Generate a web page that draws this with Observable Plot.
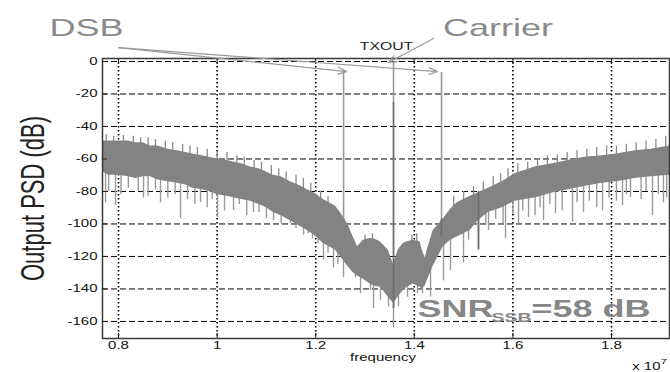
<!DOCTYPE html>
<html>
<head>
<meta charset="utf-8">
<script src="https://cdn.jsdelivr.net/npm/d3@7"></script>
<script src="https://cdn.jsdelivr.net/npm/@observablehq/plot@0.6"></script>
<style>
  html, body { margin: 0; padding: 0; background: #fff; }
</style>
</head>
<body>
<div id="chart"></div>
<script>
// ---- tick values ----
const xTicks = [0.8, 1, 1.2, 1.4, 1.6, 1.8];
const yTicks = [0, -20, -40, -60, -80, -100, -120, -140, -160];

// ---- PSD noise band: frequency (x 1e7), dense upper and lower envelope (dB) ----
const freq  = [0.7676, 0.78, 0.80, 0.82, 0.835, 0.85, 0.865, 0.88, 0.90, 0.92, 0.936, 0.95, 0.97, 0.985, 1.0006, 1.02, 1.035, 1.05, 1.0675, 1.085, 1.10, 1.1141, 1.13, 1.1485, 1.165, 1.183, 1.1972, 1.2154, 1.2397, 1.2499, 1.265, 1.2762, 1.2848, 1.2965, 1.3106, 1.3173, 1.3309, 1.3471, 1.3578, 1.3674, 1.3775, 1.3856, 1.3978, 1.4116, 1.416, 1.4222, 1.4261, 1.4383, 1.4586, 1.4734, 1.4869, 1.5133, 1.5295, 1.55, 1.5781, 1.6045, 1.625, 1.645, 1.68, 1.7119, 1.745, 1.7808, 1.81, 1.8476, 1.88, 1.9176];
const upper = [-49, -49, -49, -49, -50, -50, -52, -52, -54, -55, -56, -57, -58, -59, -60, -61, -62, -63, -65, -66, -68, -70, -71, -74, -76, -79, -81, -85, -89, -93, -100, -108, -114, -110, -109, -109, -111, -116, -125, -116, -112, -111, -110, -111, -116, -121, -116, -104, -97, -91, -87, -83, -81, -78, -74, -69, -67, -65, -63, -61, -59, -58, -57, -55, -54, -52];
const lower = [-68, -70, -70, -71, -72, -71, -71, -73, -74, -75, -76, -78, -79, -80, -82, -83, -84, -85, -86, -88, -90, -93, -95, -98, -101, -104, -107, -112, -116, -120, -126, -130, -132, -134, -137, -138, -139, -145, -149, -145, -141, -139, -137, -139, -140, -138, -135, -126, -114, -110, -108, -104, -98, -93, -90, -86, -85, -84, -81, -79, -77, -75, -74, -72, -71, -70];

// ---- small upward spikes on the top edge of the band ----
const tipFreq = [0.775, 0.79, 0.81, 0.83, 0.845, 0.86, 0.875, 0.895, 0.91, 0.93, 0.945, 0.96, 0.98, 1.0, 1.02, 1.04, 1.055, 1.075, 1.09, 1.11, 1.125, 1.14, 1.16, 1.175, 1.19, 1.21, 1.225, 1.30, 1.315, 1.395, 1.405, 1.48, 1.50, 1.52, 1.54, 1.56, 1.575, 1.59, 1.61, 1.63, 1.65, 1.67, 1.69, 1.71, 1.73, 1.75, 1.77, 1.79, 1.81, 1.83, 1.85, 1.87, 1.89, 1.91];
const tipTop  = [-45, -46, -45.5, -46, -47, -47, -48, -49, -50, -51, -52, -53, -54, -56, -56, -58, -59, -61, -62, -64, -66, -68, -70, -72, -75, -80, -83, -107, -106, -107, -106, -83, -80, -77, -74, -71, -69, -66, -63, -62, -60, -58, -57.5, -56, -55, -54, -53, -52, -52, -51, -50, -49, -48, -46];
const tipBase = [-55, -55, -55, -55, -56, -56, -58, -58, -60, -61, -62, -63, -64, -65, -66, -68, -69, -71, -72, -74, -76, -78, -80, -82, -85, -90, -93, -115, -115, -115, -115, -93, -90, -87, -84, -81, -79, -76, -73, -72, -70, -68, -67, -66, -65, -64, -63, -62, -62, -61, -60, -59, -58, -56];

// ---- individual downward noise spikes below the band ----
const spikeFreq   = [0.7737, 0.78, 0.7939, 0.805, 0.82, 0.84, 0.8507, 0.86, 0.875, 0.8852, 0.90, 0.915, 0.9258, 0.94, 0.955, 0.9663, 0.98, 0.99, 1.0008, 1.015, 1.0333, 1.045, 1.06, 1.0738, 1.085, 1.10, 1.1144, 1.13, 1.1489, 1.16, 1.1753, 1.185, 1.1935, 1.205, 1.2158, 1.225, 1.2361, 1.245, 1.2564, 1.2807, 1.2909, 1.3112, 1.3173, 1.3314, 1.3477, 1.3578, 1.3679, 1.3862, 1.4065, 1.4166, 1.4329, 1.4592, 1.4734, 1.4998, 1.51, 1.53, 1.545, 1.5505, 1.565, 1.58, 1.5850, 1.60, 1.6114, 1.62, 1.6317, 1.645, 1.655, 1.6621, 1.675, 1.6864, 1.70, 1.7209, 1.73, 1.7432, 1.755, 1.77, 1.7817, 1.795, 1.81, 1.8223, 1.83, 1.8385, 1.86, 1.87, 1.8831, 1.895, 1.9054, 1.912];
const spikeTop    = [-65, -65, -65, -66, -66, -67, -66, -68, -68, -70, -70, -71, -72, -73, -74, -75, -76, -77, -78, -79, -80, -81, -82, -82, -84, -86, -88, -90, -93, -95, -98, -100, -100, -105, -108, -110, -112, -116, -118, -125, -130, -132, -132, -135, -140, -140, -140, -135, -133, -135, -125, -110, -108, -100, -100, -96, -92, -90, -88, -86, -85, -83, -82, -81, -80, -80, -79, -80, -78, -78, -77, -76, -75, -74, -73, -72, -73, -71, -71, -70, -69, -70, -68, -68, -68, -67, -68, -67];
const spikeBottom = [-87, -80, -88.6, -82, -78, -80, -84, -83, -79, -87, -84, -82, -96.6, -85, -88, -86.8, -90, -85, -96, -92, -91.7, -88, -95, -93, -93, -97, -98, -100, -99.7, -103, -107, -106, -109, -112, -122, -118, -127, -125, -133, -133, -143, -141, -152, -147, -151, -164, -151, -145, -143, -143, -145, -135, -128.6, -124, -110, -105, -101, -104, -97, -100, -109, -94, -100, -92, -96, -95, -90, -98, -88, -93.7, -92, -99, -87, -93, -86, -90, -92, -84, -86, -88.6, -82, -83.7, -85, -80, -94.8, -82, -87, -84];

// ---- DSB tones and carrier (light part) ----
const toneFreq   = [1.2565, 1.3578, 1.4552];
const toneTop    = [-6.8, -0.5, -6.8];
const toneBottom = [-100, -25, -110];

// ---- darker line segments (carrier body and other) ----
const darkFreq   = [1.3578, 1.5302, 1.4552];
const darkTop    = [-25, -80, -97];
const darkBottom = [-152, -116, -108];

// ---- annotation labels ----
const labelText = ["DSB", "Carrier"];
const labelFreq = [0.735, 1.5698];
const labelDb   = [16, 15.4];
const txText = ["TXOUT"];
const txFreq = [1.3436];
const txDb   = [6.8];

// ---- annotation arrows (from -> to) ----
const arrowX1 = [0.80, 0.80, 1.439];
const arrowY1 = [8.6, 8.6, 14.2];
const arrowX2 = [1.2624, 1.4466, 1.3476];
const arrowY2 = [-6.2, -6.2, -0.6];

// ---- SNR annotation ----
const snrMain = ["SNR"];
const snrSub  = ["SSB"];
const snrRest = ["=58 dB"];
const snrFreq = [1.4065];
const snrDb   = [-157.5];

const yLabel = ["Output PSD (dB)"];
const xLabel = ["frequency"];
const expText = ["x 10"];
const expSup = ["7"];

// tables built from the arrays
const band = freq.map((f, i) => ({f, hi: upper[i], lo: lower[i]}));
const tips = tipFreq.map((f, i) => ({f, top: tipTop[i], bot: tipBase[i]}));
const spikes = spikeFreq.map((f, i) => ({f, top: spikeTop[i], bot: spikeBottom[i]}));
const tones = toneFreq.map((f, i) => ({f, top: toneTop[i], bot: toneBottom[i]}));
const darks = darkFreq.map((f, i) => ({f, top: darkTop[i], bot: darkBottom[i]}));
const labels = labelText.map((t, i) => ({t, f: labelFreq[i], db: labelDb[i]}));
const tx = txText.map((t, i) => ({t, f: txFreq[i], db: txDb[i]}));
const arrows = arrowX1.map((x1, i) => ({x1, y1: arrowY1[i], x2: arrowX2[i], y2: arrowY2[i]}));
const snr = snrFreq.map((f, i) => ({f, db: snrDb[i]}));

const font = "Liberation Sans, Arial, Helvetica, sans-serif";

const chart = Plot.plot({
  width: 670,
  height: 372,
  marginTop: 58,
  marginBottom: 34,
  marginLeft: 102,
  marginRight: 1,
  x: {domain: [0.7675, 1.9176]},
  y: {domain: [-170.5, 1.85]},
  style: {fontFamily: font, background: "#fff", color: "#111"},
  marks: [
    // grid
    Plot.ruleY(yTicks, {stroke: "#000", strokeWidth: 1, strokeDasharray: "6,3"}),
    Plot.ruleX(xTicks, {stroke: "#000", strokeWidth: 1.6, strokeDasharray: "1.6,2.4"}),
    // light spikes and tones below the band
    Plot.ruleX(spikes, {x: "f", y1: "top", y2: "bot", stroke: "#9a9a9a", strokeWidth: 1.4}),
    Plot.ruleX(tones, {x: "f", y1: "top", y2: "bot", stroke: "#9a9a9a", strokeWidth: 1.6}),
    // noise band with fuzzy top edge
    Plot.ruleX(tips, {x: "f", y1: "top", y2: "bot", stroke: "#8a8a8a", strokeWidth: 1.3}),
    Plot.areaY(band, {x: "f", y1: "lo", y2: "hi", fill: "#838383", curve: "linear"}),
    // darker segments
    Plot.ruleX(darks, {x: "f", y1: "top", y2: "bot", stroke: "#6e6e6e", strokeWidth: 1.8}),
    // frame
    Plot.frame({stroke: "#3a3a3a", strokeWidth: 1.5}),
    // inward ticks
    Plot.axisY(yTicks, {anchor: "left", tickSize: 5, dx: 5, tickFormat: () => "", label: null, stroke: "#222"}),
    Plot.axisX(xTicks, {anchor: "bottom", tickSize: 5, dy: -5, tickFormat: () => "", label: null, stroke: "#222"}),
    Plot.axisX(xTicks, {anchor: "top", tickSize: 5, dy: 5, tickFormat: () => "", label: null, stroke: "#222"}),
    // tick labels
    Plot.axisY(yTicks, {anchor: "left", tickSize: 0, tickPadding: 5, tickFormat: d => String(d), label: null, fontSize: 10, fill: "#111"}),
    Plot.axisX(xTicks, {anchor: "bottom", tickSize: 0, tickPadding: 3, tickFormat: d => String(d), label: null, fontSize: 10, fill: "#111"}),
    // axis labels
    Plot.text(yLabel, {text: d => d, frameAnchor: "left", dx: -59, rotate: -90, textAnchor: "middle", lineAnchor: "bottom", fontSize: 22, fill: "#222"}),
    Plot.text(xLabel, {text: d => d, frameAnchor: "bottom", dx: -3, dy: 22, textAnchor: "middle", lineAnchor: "bottom", fontSize: 10, fill: "#111"}),
    Plot.text(expText, {text: d => d, frameAnchor: "bottom-right", dx: -9, dy: 31, textAnchor: "end", lineAnchor: "bottom", fontSize: 10, fill: "#111"}),
    Plot.text(expSup, {text: d => d, frameAnchor: "bottom-right", dx: -9, dy: 25, textAnchor: "start", lineAnchor: "bottom", fontSize: 8, fill: "#111"}),
    // arrows
    Plot.arrow(arrows, {x1: "x1", y1: "y1", x2: "x2", y2: "y2", stroke: "#9a9a9a", strokeWidth: 1.2, headLength: 11, headAngle: 45, bend: 0}),
    // annotation labels
    Plot.text(labels, {x: "f", y: "db", text: "t", textAnchor: "middle", lineAnchor: "bottom", fontSize: 24, fill: "#8a8a8a"}),
    Plot.text(tx, {x: "f", y: "db", text: "t", textAnchor: "middle", lineAnchor: "bottom", fontSize: 10.5, fill: "#222"}),
    Plot.text(snr, {x: "f", y: "db", text: () => snrMain[0], textAnchor: "start", lineAnchor: "bottom", fontSize: 24, fontWeight: "bold", fill: "#878787"}),
    Plot.text(snr, {x: "f", y: "db", text: () => snrSub[0], dx: 74, dy: 5, textAnchor: "start", lineAnchor: "bottom", fontSize: 13, fontWeight: "bold", fill: "#878787"}),
    Plot.text(snr, {x: "f", y: "db", text: () => snrRest[0], dx: 114, textAnchor: "start", lineAnchor: "bottom", fontSize: 24, fontWeight: "bold", fill: "#878787"})
  ]
});

// the reference is horizontally stretched: widen glyphs about their anchors
chart.querySelectorAll("text").forEach(t => {
  const tr = t.getAttribute("transform");
  if (!tr) return;
  t.setAttribute("transform", tr + (tr.includes("rotate") ? " scale(1,1.5)" : " scale(1.5,1)"));
});

document.getElementById("chart").appendChild(chart);
</script>
</body>
</html>
